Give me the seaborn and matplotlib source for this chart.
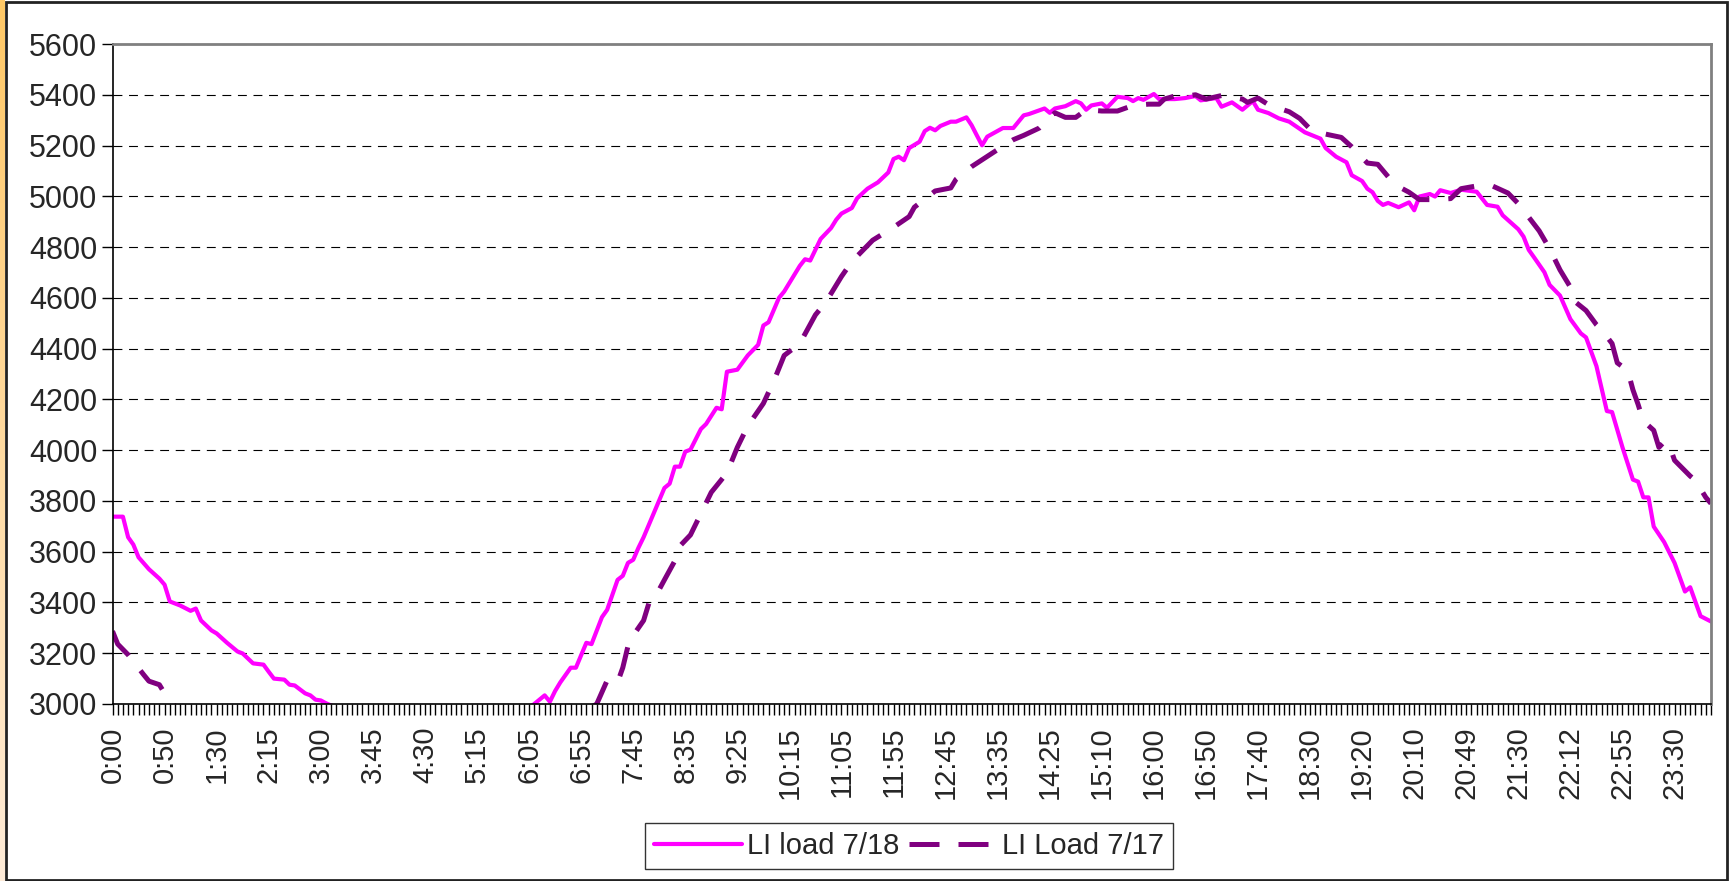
import numpy as np
import pandas as pd
import matplotlib
matplotlib.use("Agg")
import matplotlib.pyplot as plt
from matplotlib.ticker import MultipleLocator, FixedLocator, FixedFormatter
from matplotlib.patches import Rectangle
import seaborn as sns

# ---- data (slot = 5-minute category position) ----
slot_18 = [0, 2, 3, 4, 5, 7, 9, 10, 11, 13, 15, 16, 17, 19, 20, 22, 24, 25, 27, 29,
           30, 31, 33, 34, 35, 37, 38, 39, 40, 41, 43, 50, 60, 70, 78, 81, 83, 84, 85, 86,
           88, 89, 91, 92, 94, 95, 97, 98, 99, 100, 101, 102, 104, 106, 107, 108, 109, 110, 111, 113,
           114, 116, 117, 118, 120, 122, 124, 125, 126, 128, 129, 132, 133, 134, 136, 138, 139, 140, 142, 143,
           145, 147, 149, 150, 151, 152, 153, 155, 156, 157, 158, 159, 161, 162, 164, 165, 166, 167, 168, 171,
           173, 175, 176, 179, 180, 181, 183, 185, 186, 187, 188, 190, 191, 193, 195, 196, 197, 198, 200, 201,
           204, 206, 208, 209, 212, 213, 215, 217, 219, 220, 222, 224, 226, 229, 232, 233, 235, 237, 238, 240,
           241, 242, 243, 244, 245, 247, 249, 250, 251, 253, 254, 255, 257, 259, 262, 264, 266, 267, 270, 271,
           272, 273, 275, 276, 278, 280, 282, 283, 285, 287, 288, 290, 292, 293, 294, 295, 296, 298, 300, 302,
           303, 305, 307]
load_18 = [3738, 3738, 3657, 3628, 3578, 3531, 3494, 3470, 3404, 3388, 3367, 3376, 3329, 3290, 3278, 3241, 3207, 3199, 3160, 3155,
           3127, 3100, 3096, 3076, 3073, 3042, 3034, 3017, 3014, 3003, 2985, 2880, 2820, 2860, 2950, 3000, 3034, 3009, 3051, 3085,
           3143, 3143, 3241, 3236, 3342, 3371, 3489, 3505, 3556, 3568, 3615, 3657, 3754, 3851, 3868, 3935, 3935, 3994, 4002, 4083,
           4103, 4167, 4161, 4309, 4317, 4373, 4415, 4491, 4504, 4600, 4625, 4726, 4752, 4747, 4832, 4875, 4908, 4932, 4954, 4992,
           5030, 5055, 5094, 5147, 5156, 5142, 5190, 5215, 5257, 5270, 5260, 5277, 5294, 5294, 5311, 5280, 5240, 5201, 5235, 5269,
           5269, 5319, 5324, 5346, 5329, 5346, 5355, 5375, 5366, 5341, 5358, 5366, 5349, 5392, 5387, 5375, 5387, 5380, 5403, 5383,
           5383, 5387, 5395, 5378, 5387, 5353, 5370, 5341, 5375, 5341, 5328, 5307, 5294, 5252, 5227, 5190, 5156, 5134, 5083, 5060,
           5030, 5016, 4982, 4966, 4974, 4957, 4976, 4945, 4999, 5009, 4999, 5024, 5013, 5026, 5018, 4966, 4959, 4925, 4870, 4841,
           4789, 4760, 4701, 4651, 4609, 4516, 4460, 4444, 4331, 4154, 4150, 4011, 3884, 3876, 3814, 3814, 3699, 3638, 3556, 3443,
           3460, 3346, 3325]

slot_17 = [0, 1, 3, 6, 7, 9, 10, 12, 25, 45, 65, 85, 93, 95, 97, 98, 99, 100, 102, 103,
           104, 106, 108, 109, 111, 113, 115, 118, 120, 122, 125, 127, 129, 132, 135, 137, 140, 142, 146, 150,
           153, 154, 158, 161, 162, 165, 170, 173, 175, 178, 181, 183, 185, 187, 190, 193, 196, 199, 201, 202,
           204, 207, 208, 210, 213, 217, 218, 220, 222, 226, 228, 230, 233, 236, 238, 241, 243, 245, 247, 249,
           251, 254, 257, 259, 262, 265, 268, 270, 274, 276, 278, 280, 281, 283, 285, 286, 288, 289, 291, 292,
           293, 294, 296, 297, 298, 299, 300, 303, 304, 306, 307]
load_17 = [3287, 3236, 3194, 3115, 3090, 3076, 3042, 2990, 2850, 2760, 2780, 2900, 3000, 3093, 3085, 3143, 3228, 3270, 3329, 3396,
           3413, 3489, 3564, 3623, 3666, 3750, 3834, 3910, 4011, 4095, 4184, 4272, 4373, 4420, 4533, 4583, 4684, 4743, 4827, 4878,
           4920, 4957, 5021, 5033, 5067, 5117, 5184, 5223, 5240, 5269, 5329, 5311, 5311, 5341, 5336, 5336, 5358, 5363, 5363, 5383,
           5395, 5397, 5400, 5383, 5397, 5383, 5370, 5387, 5361, 5333, 5307, 5265, 5245, 5232, 5195, 5131, 5126, 5077, 5038, 5016,
           4987, 4987, 4991, 5030, 5041, 5041, 5013, 4971, 4864, 4794, 4710, 4642, 4583, 4550, 4494, 4474, 4420, 4344, 4314, 4238,
           4180, 4115, 4078, 4011, 4033, 4019, 3960, 3898, 3881, 3814, 3790]

time_labels = ["0:00", "0:50", "1:30", "2:15", "3:00", "3:45", "4:30", "5:15", "6:05", "6:55",
               "7:45", "8:35", "9:25", "10:15", "11:05", "11:55", "12:45", "13:35", "14:25", "15:10",
               "16:00", "16:50", "17:40", "18:30", "19:20", "20:10", "20:49", "21:30", "22:12", "22:55",
               "23:30"]

# ---- style ----
sns.set_style("white")
plt.rcParams['font.family'] = ['Liberation Sans', 'DejaVu Sans']

fig = plt.figure(figsize=(17.31, 8.81), dpi=100)
W, H = 1731, 881
ax = fig.add_axes([112.5 / W, 1 - 704 / H, (1711 - 112.5) / W, (704 - 44) / H])

df18 = pd.DataFrame({'slot': slot_18, 'load': load_18})
df17 = pd.DataFrame({'slot': slot_17, 'load': load_17})

sns.lineplot(data=df18, x='slot', y='load', ax=ax, color='#FF00FF', linewidth=3.0,
             label='LI load 7/18', estimator=None)
sns.lineplot(data=df17, x='slot', y='load', ax=ax, color='#800080', linewidth=3.6,
             label='LI Load 7/17', estimator=None)
ax.lines[1].set_dashes((6, 3.8))

ax.set_xlim(0, 307)
ax.set_ylim(3000, 5600)
ax.set_xlabel('')
ax.set_ylabel('')

ax.yaxis.set_major_locator(MultipleLocator(200))
ax.xaxis.set_major_locator(FixedLocator(list(range(0, 301, 10))))
ax.xaxis.set_major_formatter(FixedFormatter(time_labels))
ax.xaxis.set_minor_locator(MultipleLocator(1))

ax.tick_params(axis='both', which='both', direction='out', bottom=True, left=True,
               length=8, width=1, color='black')
ax.tick_params(axis='x', which='minor', length=8, width=1)
ax.tick_params(axis='y', pad=3, labelsize=22)
ax.tick_params(axis='x', pad=8, labelrotation=90, labelsize=21)

ax.yaxis.grid(True, color='black', linewidth=0.8, dashes=(8, 6))
ax.xaxis.grid(False)

for side in ['left', 'bottom']:
    ax.spines[side].set_color('black')
    ax.spines[side].set_linewidth(1.2)
for side in ['top', 'right']:
    ax.spines[side].set_color('#808080')
    ax.spines[side].set_linewidth(2)

ax.get_legend().remove()
handles, labels = ax.get_legend_handles_labels()
leg = fig.legend(handles, labels, loc='center', bbox_to_anchor=(909 / W, 1 - 846 / H),
                 bbox_transform=fig.transFigure, ncol=2, frameon=True, fancybox=False,
                 edgecolor='black', fontsize=21, handlelength=3.0, handletextpad=0.2,
                 columnspacing=0.3, borderpad=0.3)
leg.get_frame().set_linewidth(1.0)

# figure frame and the orange strip on the left edge
grad = np.linspace(0, 1, 256).reshape(-1, 1)
strip = fig.add_axes([0, 0, 5 / W, 1])
strip.imshow(grad, aspect='auto',
             cmap=matplotlib.colors.LinearSegmentedColormap.from_list('strip', ['#FFC866', '#FDEBD8']))
strip.axis('off')
fig.patches.append(Rectangle((6 / W, 1.5 / H), (1727 - 6) / W, (879 - 1.5) / H,
                             transform=fig.transFigure, fill=False,
                             edgecolor='#222222', linewidth=2))

fig.savefig('out.png', dpi=100)
